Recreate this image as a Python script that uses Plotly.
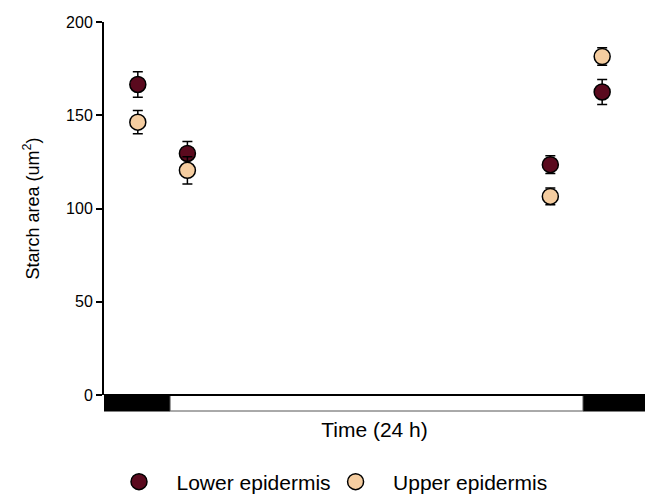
import plotly.graph_objects as go

# Data
time_h = [1.5, 3.7, 19.8, 22.1]
lower_vals = [166.5, 129.5, 123.5, 162.5]
lower_err = [6.8, 6.4, 4.8, 6.7]
upper_vals = [146.3, 120.5, 106.5, 181.5]
upper_err = [6.2, 7.3, 4.5, 4.7]
dark_periods = [(0.0, 2.93), (21.25, 24.0)]
light_periods = [(2.93, 21.25)]

LOWER_COLOR = "#5a0a1e"
UPPER_COLOR = "#f5cda0"
FONT = "Liberation Sans, Arial, sans-serif"
NB = "\u00a0"

fig = go.Figure()
fig.add_trace(go.Scatter(
    x=time_h, y=lower_vals, mode="markers", name=NB * 3 + "Lower epidermis",
    marker=dict(size=16, color=LOWER_COLOR, line=dict(color="black", width=1.5)),
    error_y=dict(type="data", array=lower_err, visible=True, color="black", thickness=1.5, width=5),
))
fig.add_trace(go.Scatter(
    x=time_h, y=upper_vals, mode="markers", name=NB * 3 + "Upper epidermis",
    marker=dict(size=16, color=UPPER_COLOR, line=dict(color="black", width=1.5)),
    error_y=dict(type="data", array=upper_err, visible=True, color="black", thickness=1.5, width=5),
))

bar_h = 16 / 373.0
for x0, x1 in dark_periods:
    fig.add_shape(type="rect", xref="x", yref="paper", x0=x0, x1=x1, y0=-bar_h, y1=0,
                  fillcolor="black", line=dict(color="black", width=1), layer="above")
for x0, x1 in light_periods:
    fig.add_shape(type="rect", xref="x", yref="paper", x0=x0, x1=x1, y0=-bar_h, y1=0,
                  fillcolor="white", line=dict(color="#555555", width=1), layer="above")
fig.add_shape(type="line", xref="paper", yref="paper", x0=0, x1=1, y0=0, y1=0,
              line=dict(color="black", width=2), layer="above")

fig.update_layout(
    width=646, height=496,
    margin=dict(l=104, r=1, t=22, b=101),
    paper_bgcolor="white", plot_bgcolor="white",
    font=dict(family=FONT, color="black", size=16),
    showlegend=True,
    legend=dict(orientation="h", xref="container", yref="container",
                x=119 / 646, xanchor="left", y=1 - 482 / 496, yanchor="middle",
                font=dict(size=21, family=FONT), itemclick=False),
    xaxis=dict(range=[0, 24], showgrid=False, zeroline=False, showline=False,
               showticklabels=False, ticks="",
               title=dict(text="Time (24 h)", font=dict(size=21, family=FONT), standoff=27)),
    yaxis=dict(range=[0, 200], tickvals=[0, 50, 100, 150, 200], showgrid=False, zeroline=False,
               showline=True, linecolor="black", linewidth=2,
               ticks="outside", ticklen=6, tickwidth=1.5, tickcolor="black",
               tickfont=dict(size=16, family=FONT),
               title=dict(text="Starch area (um<sup>2</sup>)", font=dict(size=18, family=FONT), standoff=22)),
)

fig.write_html("out.html")
